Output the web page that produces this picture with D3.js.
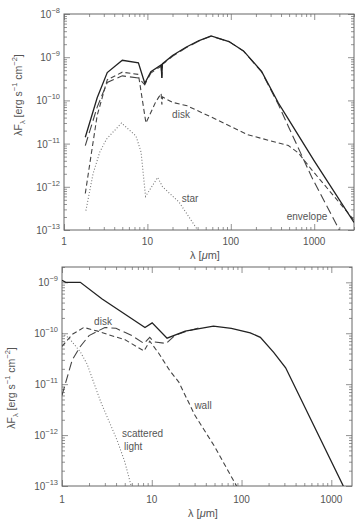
<!DOCTYPE html>
<html>
<head>
<meta charset="utf-8">
<script src="https://cdn.jsdelivr.net/npm/d3@7/dist/d3.min.js"></script>
<style>
body { margin: 0; background: #fff; }
text { font-family: "Liberation Sans", Arial, sans-serif; fill: #555; }
</style>
</head>
<body>
<svg id="chart" width="363" height="526"></svg>
<script>
// ---- top panel data (wavelength in micron, lambda F_lambda in erg/s/cm2)
var topTotalWave = [1.8, 2.5, 3.3, 5, 7.8, 9.3, 11, 14.6, 14.9, 15.1, 20, 29, 41, 58, 95, 142, 234, 372, 490, 1000, 3000];
var topTotalFlux = [1.4e-11, 1.15e-10, 4.4e-10, 8.5e-10, 7.4e-10, 2.5e-10, 4.6e-10, 6.6e-10, 3.3e-10, 7.0e-10, 1.1e-9, 1.7e-9, 2.4e-9, 3.1e-9, 2.3e-9, 1.4e-9, 4.7e-10, 8.7e-11, 3.7e-11, 4.0e-12, 1.5e-13];
var topEnvWave = [1.8, 2.5, 3.3, 5, 7.8, 9.3, 11, 14.6, 14.9, 15.1, 20, 29, 41, 58, 95, 142, 234, 372, 490, 930, 2000];
var topEnvFlux = [9e-12, 7e-11, 2.6e-10, 3.7e-10, 3.3e-10, 2.3e-10, 4.3e-10, 6.2e-10, 3.3e-10, 6.8e-10, 1.05e-9, 1.65e-9, 2.35e-9, 3.05e-9, 2.3e-9, 1.38e-9, 4.6e-10, 8.0e-11, 2.5e-11, 1.7e-12, 1e-13];
var topDiskWave = [1.8, 2.1, 2.5, 3.3, 5, 7.8, 9.6, 12.5, 14.6, 14.9, 15.2, 20, 30, 60, 160, 490, 650, 930, 3000];
var topDiskFlux = [7e-13, 5e-12, 4.5e-11, 3e-10, 4.5e-10, 4e-10, 3e-11, 9e-11, 1.45e-10, 8e-11, 1.2e-10, 9e-11, 7.5e-11, 4e-11, 1.6e-11, 9e-12, 6e-12, 2.5e-12, 1.7e-13];
var topStarWave = [1.83, 2.23, 2.68, 3.22, 4.9, 7.3, 8.4, 9.5, 13.3, 15.2, 24, 40];
var topStarFlux = [2.8e-13, 2e-12, 6.3e-12, 1.26e-11, 3e-11, 1.5e-11, 6.3e-12, 6e-13, 1.65e-12, 1.0e-12, 4.4e-13, 1e-13];

// ---- bottom panel data
var botTotalWave = [1, 1.1, 1.6, 2.8, 8.4, 10.1, 14.8, 23.6, 48.6, 77, 125, 162, 228, 310, 1360];
var botTotalFlux = [1.1e-9, 1.0e-9, 1.0e-9, 4.7e-10, 1.3e-10, 1.6e-10, 8e-11, 1.1e-10, 1.38e-10, 1.25e-10, 1.02e-10, 8.3e-11, 4.2e-11, 2.1e-11, 1e-13];
var botWallWave = [1, 1.3, 1.75, 2.5, 3.2, 5, 8.2, 9.5, 12, 16, 20, 30, 50, 88];
var botWallFlux = [5.5e-11, 9.5e-11, 1.3e-10, 1.1e-10, 9.5e-11, 7.5e-11, 4.5e-11, 7e-11, 4e-11, 1.8e-11, 1.1e-11, 2.5e-12, 6e-13, 1e-13];
var botDiskWave = [1, 1.3, 1.6, 2, 3, 4, 6, 8.2, 9.5, 10.5, 14.5, 18, 24, 35];
var botDiskFlux = [6e-12, 3e-11, 5.5e-11, 9e-11, 1.3e-10, 1.25e-10, 9e-11, 6.3e-11, 8.3e-11, 6.8e-11, 6.3e-11, 9e-11, 1.08e-10, 1.3e-10];
var botScatWave = [1, 1.2, 1.6, 1.9, 2.7, 4.1, 5, 5.9];
var botScatFlux = [1e-10, 8e-11, 4.3e-11, 2.5e-11, 4.5e-12, 8e-13, 3e-13, 1e-13];

var svg = d3.select('#chart');

function zip(w, f){
	return w.map(function(d, i){ return {w: d, f: f[i]}; });
}

function minorTicks(lo, hi){
	var out = [];
	for (var e = Math.floor(Math.log10(lo)); e <= Math.ceil(Math.log10(hi)); e++){
		for (var k = 2; k <= 9; k++){
			var v = k * Math.pow(10, e);
			if (v >= lo && v <= hi) out.push(v);
		}
	}
	return out;
}
function majorTicks(lo, hi){
	var out = [];
	for (var e = Math.ceil(Math.log10(lo) - 1e-9); e <= Math.floor(Math.log10(hi) + 1e-9); e++){
		out.push(Math.pow(10, e));
	}
	return out;
}

function drawPanel(p){
	var x = d3.scaleLog().domain(p.xdom).range([p.left, p.right]);
	var y = d3.scaleLog().domain(p.ydom).range([p.bottom, p.top]);
	var g = svg.append('g');

	var xMaj = majorTicks(p.xdom[0], p.xdom[1]), xMin = minorTicks(p.xdom[0], p.xdom[1]);
	var yMaj = majorTicks(p.ydom[0], p.ydom[1]), yMin = minorTicks(p.ydom[0], p.ydom[1]);

	// inward ticks on all four sides
	var axes = [
		[d3.axisBottom(x), 'translate(0,' + p.bottom + ')', xMaj, xMin, -1],
		[d3.axisTop(x), 'translate(0,' + p.top + ')', xMaj, xMin, -1],
		[d3.axisLeft(y), 'translate(' + p.left + ',0)', yMaj, yMin, -1],
		[d3.axisRight(y), 'translate(' + p.right + ',0)', yMaj, yMin, -1]
	];
	axes.forEach(function(a){
		g.append('g').attr('transform', a[1])
			.call(a[0].tickValues(a[2]).tickSize(-6).tickSizeOuter(0).tickFormat(''));
		g.append('g').attr('transform', a[1])
			.call(a[0].tickValues(a[3]).tickSize(-3).tickSizeOuter(0).tickFormat(''));
	});
	g.selectAll('.domain').remove();
	g.selectAll('.tick line').attr('stroke', '#777').attr('stroke-width', 0.8);

	g.append('rect')
		.attr('x', p.left).attr('y', p.top)
		.attr('width', p.right - p.left).attr('height', p.bottom - p.top)
		.attr('fill', 'none').attr('stroke', '#666').attr('stroke-width', 1);

	// x tick labels
	g.selectAll('.xl').data(xMaj).enter().append('text')
		.attr('x', function(d){ return x(d); })
		.attr('y', p.bottom + p.xlab)
		.attr('text-anchor', 'middle')
		.attr('font-size', 10)
		.text(function(d){ return d3.format('d')(d); });

	// y tick labels: 10^n
	yMaj.forEach(function(d){
		var t = g.append('text')
			.attr('x', p.left - 4).attr('y', y(d) + 4)
			.attr('text-anchor', 'end').attr('font-size', 10);
		t.append('tspan').text('10');
		t.append('tspan').attr('dy', -5).attr('font-size', 7.5)
			.text('\u2212' + Math.round(-Math.log10(d)));
	});

	// axis titles
	var xt = g.append('text')
		.attr('x', (p.left + p.right) / 2 - 4).attr('y', p.bottom + p.xtitle)
		.attr('text-anchor', 'middle').attr('font-size', 11);
	xt.append('tspan').text('\u03bb [');
	xt.append('tspan').attr('font-style', 'italic').text('\u03bc');
	xt.append('tspan').text('m]');

	var yt = g.append('text')
		.attr('transform', 'translate(' + p.ytx + ',' + p.yty + ') rotate(-90)')
		.attr('text-anchor', 'middle').attr('font-size', 10.5);
	yt.append('tspan').text('\u03bbF');
	yt.append('tspan').attr('font-size', 7.5).attr('dy', 3).text('\u03bb');
	yt.append('tspan').attr('dy', -3).text(' [erg s');
	yt.append('tspan').attr('font-size', 7.5).attr('dy', -5).text('\u22121');
	yt.append('tspan').attr('dy', 5).text(' cm');
	yt.append('tspan').attr('font-size', 7.5).attr('dy', -5).text('\u22122');
	yt.append('tspan').attr('dy', 5).text(']');

	// curves
	var line = d3.line()
		.x(function(d){ return x(d.w); })
		.y(function(d){ return y(d.f); });
	var clipId = 'clip' + p.top;
	svg.append('clipPath').attr('id', clipId).append('rect')
		.attr('x', p.left).attr('y', p.top)
		.attr('width', p.right - p.left).attr('height', p.bottom - p.top);
	var cg = svg.append('g').attr('clip-path', 'url(#' + clipId + ')');
	p.series.forEach(function(s){
		cg.append('path')
			.datum(zip(s.w, s.f))
			.attr('d', line)
			.attr('fill', 'none')
			.attr('stroke', s.color)
			.attr('stroke-width', s.width)
			.attr('stroke-dasharray', s.dash);
	});

	// curve labels
	p.labels.forEach(function(l){
		g.append('text')
			.attr('x', l.x).attr('y', l.y)
			.attr('text-anchor', l.anchor || 'middle')
			.attr('font-size', 10)
			.text(l.text);
	});
}

drawPanel({
	left: 64, right: 354, top: 14, bottom: 230,
	xdom: [1, 3000], ydom: [1e-13, 1e-8],
	xlab: 15, xtitle: 29, ytx: 22, yty: 95,
	series: [
		{w: topStarWave, f: topStarFlux, color: '#777', width: 1.1, dash: '1,2'},
		{w: topDiskWave, f: topDiskFlux, color: '#444', width: 1.1, dash: '5,3'},
		{w: topEnvWave, f: topEnvFlux, color: '#444', width: 1.1, dash: '9,4'},
		{w: topTotalWave, f: topTotalFlux, color: '#222', width: 1.3, dash: null}
	],
	labels: [
		{text: 'disk', x: 181, y: 118},
		{text: 'star', x: 190, y: 202},
		{text: 'envelope', x: 307, y: 220}
	]
});

drawPanel({
	left: 62, right: 352, top: 267, bottom: 486,
	xdom: [1, 1700], ydom: [1e-13, 2e-9],
	xlab: 17, xtitle: 31, ytx: 15, yty: 388,
	series: [
		{w: botScatWave, f: botScatFlux, color: '#777', width: 1.1, dash: '1,2'},
		{w: botWallWave, f: botWallFlux, color: '#444', width: 1.1, dash: '5,3'},
		{w: botDiskWave, f: botDiskFlux, color: '#444', width: 1.1, dash: '9,4'},
		{w: botTotalWave, f: botTotalFlux, color: '#222', width: 1.3, dash: null}
	],
	labels: [
		{text: 'disk', x: 103, y: 325},
		{text: 'wall', x: 203, y: 409},
		{text: 'scattered', x: 122, y: 437, anchor: 'start'},
		{text: 'light', x: 124, y: 450, anchor: 'start'}
	]
});
</script>
</body>
</html>
